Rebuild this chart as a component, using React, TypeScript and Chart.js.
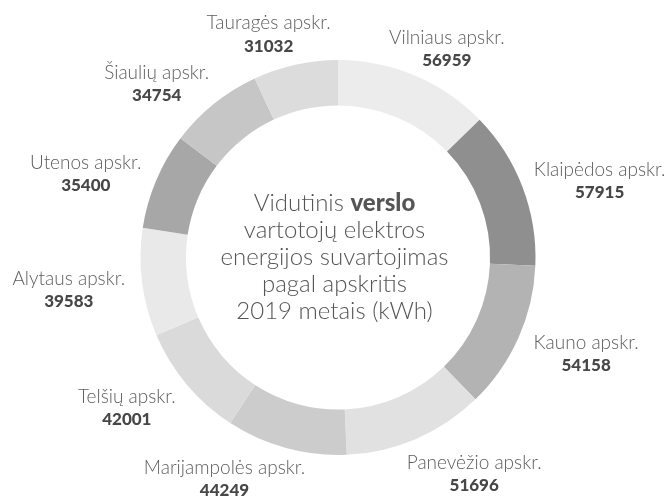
import React, { useEffect, useRef } from "react";
import { Chart, registerables } from "chart.js";

Chart.register(...registerables);

const regions = [
  "Vilniaus apskr.",
  "Klaipėdos apskr.",
  "Kauno apskr.",
  "Panevėžio apskr.",
  "Marijampolės apskr.",
  "Telšių apskr.",
  "Alytaus apskr.",
  "Utenos apskr.",
  "Šiaulių apskr.",
  "Tauragės apskr.",
];
const consumption = [56959, 57915, 54158, 51696, 44249, 42001, 39583, 35400, 34754, 31032];
const colors = [
  "#ececec",
  "#8f8f8f",
  "#b3b3b3",
  "#e1e1e1",
  "#cccccc",
  "#dadada",
  "#e9e9e9",
  "#a7a7a7",
  "#c6c6c6",
  "#dcdcdc",
];
const titleBold = "verslo";
const titleLines = [
  ["Vidutinis ", titleBold],
  ["vartotojų elektros"],
  ["energijos suvartojimas"],
  ["pagal apskritis"],
  ["2019 metais (kWh)"],
];

const LIGHT = "300 19px Lato, 'Open Sans', sans-serif";
const BOLD = "900 17px Lato, 'Open Sans', sans-serif";

const labelPlugin = {
  id: "outerLabels",
  afterDraw(chart: any) {
    const ctx = chart.ctx;
    const meta = chart.getDatasetMeta(0);
    const W = chart.width;
    const H = chart.height;
    ctx.save();
    ctx.textBaseline = "middle";
    ctx.textAlign = "center";
    meta.data.forEach((arc: any, i: number) => {
      const p = arc.getProps(["x", "y", "startAngle", "endAngle", "outerRadius"], true);
      const a = (p.startAngle + p.endAngle) / 2;
      const vx = Math.cos(a);
      const vy = Math.sin(a);
      const R = p.outerRadius * 1.19;
      const name = chart.data.labels[i];
      const val = String(chart.data.datasets[0].data[i]);
      ctx.font = LIGHT;
      const w1 = ctx.measureText(name).width;
      ctx.font = BOLD;
      const w2 = ctx.measureText(val).width;
      const w = Math.max(w1, w2);
      const k = vy < -0.85 ? 0.3 : 0.64;
      let x = p.x + vx * R + Math.sign(vx) * k * (w / 2);
      x = Math.min(Math.max(x, w / 2 + 2), W - w / 2 - 2);
      let y = p.y + vy * R + 4 - 10 * vy * Math.abs(vx);
      y = Math.min(Math.max(y, 21), H - 21);
      ctx.font = LIGHT;
      ctx.fillStyle = "#5c5c5c";
      ctx.fillText(name, x, y - 11);
      ctx.font = BOLD;
      ctx.fillStyle = "#474747";
      ctx.fillText(val, x, y + 12);
    });

    // center text
    const cx = W / 2;
    const cy = meta.data[0].y;
    const lh = 27;
    const light = "300 24px Lato, 'Open Sans', sans-serif";
    const bold = "900 24px Lato, 'Open Sans', sans-serif";
    ctx.fillStyle = "#555555";
    titleLines.forEach((parts, li) => {
      const y = cy + (li - (titleLines.length - 1) / 2) * lh;
      const fonts = parts.map((t) => (t === titleBold ? bold : light));
      const widths = parts.map((t, k) => {
        ctx.font = fonts[k];
        return ctx.measureText(t).width;
      });
      const total = widths.reduce((s, v) => s + v, 0);
      let x = cx - total / 2;
      ctx.textAlign = "left";
      parts.forEach((t, k) => {
        ctx.font = fonts[k];
        ctx.fillText(t, x, y);
        x += widths[k];
      });
    });
    ctx.restore();
  },
};

export default function App() {
  const ref = useRef<HTMLCanvasElement | null>(null);
  useEffect(() => {
    document.body.style.margin = "0";
    const chart = new Chart(ref.current as HTMLCanvasElement, {
      type: "doughnut",
      data: {
        labels: regions,
        datasets: [
          {
            data: consumption,
            backgroundColor: colors,
            borderWidth: 0,
          },
        ],
      },
      options: {
        responsive: false,
        animation: false,
        cutout: "77%",
        layout: { padding: { top: 60, bottom: 45, left: 7, right: 0 } },
        plugins: {
          legend: { display: false },
          tooltip: { enabled: false },
        },
      },
      plugins: [labelPlugin],
    });
    return () => chart.destroy();
  }, []);
  return (
    <div style={{ width: 669, height: 500, background: "#fff" }}>
      <canvas ref={ref} width={669} height={500} />
    </div>
  );
}
